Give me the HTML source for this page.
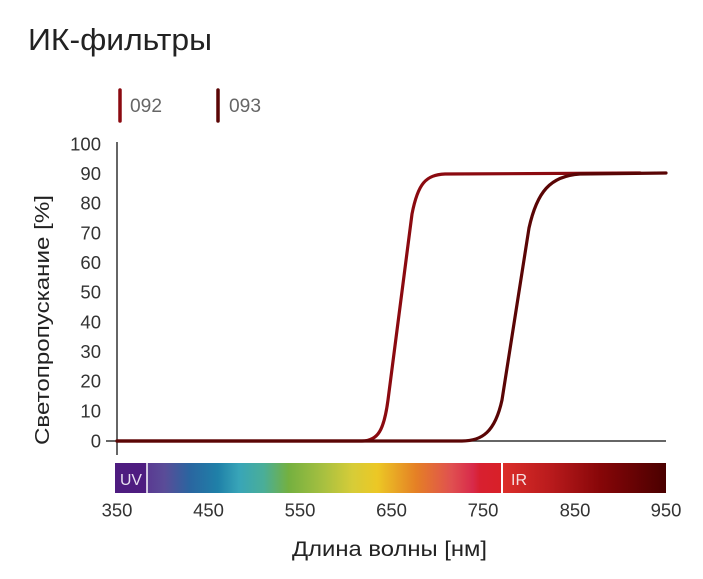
<!DOCTYPE html>
<html><head><meta charset="utf-8"><style>
html,body{margin:0;padding:0;background:#fff;}
svg{display:block;}
text{font-family:"Liberation Sans","DejaVu Sans",sans-serif;}
</style></head><body>
<svg width="703" height="579" viewBox="0 0 703 579" xmlns="http://www.w3.org/2000/svg">
<defs>
<linearGradient id="spec" x1="147" x2="501" y1="0" y2="0" gradientUnits="userSpaceOnUse">
<stop offset="0" stop-color="#5a3a92"/>
<stop offset="0.05" stop-color="#5a4c98"/>
<stop offset="0.12" stop-color="#2a65a0"/>
<stop offset="0.2" stop-color="#1f80a8"/>
<stop offset="0.26" stop-color="#38a5b8"/>
<stop offset="0.33" stop-color="#4aae98"/>
<stop offset="0.4" stop-color="#74b040"/>
<stop offset="0.5" stop-color="#a8c040"/>
<stop offset="0.58" stop-color="#d6cc38"/>
<stop offset="0.65" stop-color="#ecc825"/>
<stop offset="0.76" stop-color="#e58025"/>
<stop offset="0.86" stop-color="#e05050"/>
<stop offset="0.92" stop-color="#d82a4a"/>
<stop offset="0.94" stop-color="#d82030"/>
<stop offset="1" stop-color="#d82028"/>
</linearGradient>
<linearGradient id="ir" x1="503" x2="666" y1="0" y2="0" gradientUnits="userSpaceOnUse">
<stop offset="0" stop-color="#dc2e2a"/>
<stop offset="0.3" stop-color="#b81a1c"/>
<stop offset="0.6" stop-color="#860608"/>
<stop offset="1" stop-color="#4a0000"/>
</linearGradient>
</defs>

<text x="28" y="50" font-size="31" fill="#222" textLength="184" lengthAdjust="spacingAndGlyphs">ИК-фильтры</text>

<line x1="120" y1="90" x2="120" y2="121" stroke="#8b0a10" stroke-width="3.5" stroke-linecap="round"/>
<text x="130" y="112" font-size="19" fill="#666" textLength="32" lengthAdjust="spacingAndGlyphs">092</text>
<line x1="218" y1="90" x2="218" y2="121" stroke="#5a0505" stroke-width="3.5" stroke-linecap="round"/>
<text x="229" y="112" font-size="19" fill="#666" textLength="32" lengthAdjust="spacingAndGlyphs">093</text>

<g font-size="18.5" fill="#333" text-anchor="end">
<text x="101" y="150.5">100</text>
<text x="101" y="180">90</text>
<text x="101" y="209.5">80</text>
<text x="101" y="239.5">70</text>
<text x="101" y="269">60</text>
<text x="101" y="298.5">50</text>
<text x="101" y="328.5">40</text>
<text x="101" y="358">30</text>
<text x="101" y="387.5">20</text>
<text x="101" y="417.5">10</text>
<text x="101" y="447.5">0</text>
</g>

<text transform="translate(49,320) rotate(-90)" font-size="20" fill="#222" text-anchor="middle" textLength="250" lengthAdjust="spacingAndGlyphs">Светопропускание [%]</text>

<line x1="117" y1="142" x2="117" y2="455" stroke="#333" stroke-width="1.5"/>
<line x1="106" y1="441" x2="666" y2="441" stroke="#333" stroke-width="1.5"/>

<path d="M117,441 L362,441 C378,441 384,430 388,400 L412,214 C418,183 426,175 445,174 L640,173" fill="none" stroke="#8b0a10" stroke-width="3.2" stroke-linecap="round"/>
<path d="M117,441 L462,441 C482,441 495,432 502,400 L529,228 C537,192 550,176 580,174 L666,173" fill="none" stroke="#5a0505" stroke-width="3.2" stroke-linecap="round"/>

<rect x="115" y="463" width="32" height="30" fill="#4e1c80"/>
<rect x="147" y="463" width="354" height="30" fill="url(#spec)"/>
<rect x="503" y="463" width="163" height="30" fill="url(#ir)"/>
<line x1="147" y1="463" x2="147" y2="493" stroke="#fff" stroke-width="1.5"/>
<line x1="502" y1="463" x2="502" y2="493" stroke="#fff" stroke-width="2"/>
<text x="120" y="485" font-size="16" fill="#e8e0f0" textLength="22" lengthAdjust="spacingAndGlyphs">UV</text>
<text x="511" y="485" font-size="16" fill="#f5e0e0">IR</text>

<g font-size="18.5" fill="#333" text-anchor="middle">
<text x="117" y="516.5">350</text>
<text x="208.5" y="516.5">450</text>
<text x="300" y="516.5">550</text>
<text x="391.5" y="516.5">650</text>
<text x="483" y="516.5">750</text>
<text x="575" y="516.5">850</text>
<text x="666" y="516.5">950</text>
</g>

<text x="292" y="556" font-size="21" fill="#222" textLength="195" lengthAdjust="spacingAndGlyphs">Длина волны [нм]</text>
</svg>
</body></html>
